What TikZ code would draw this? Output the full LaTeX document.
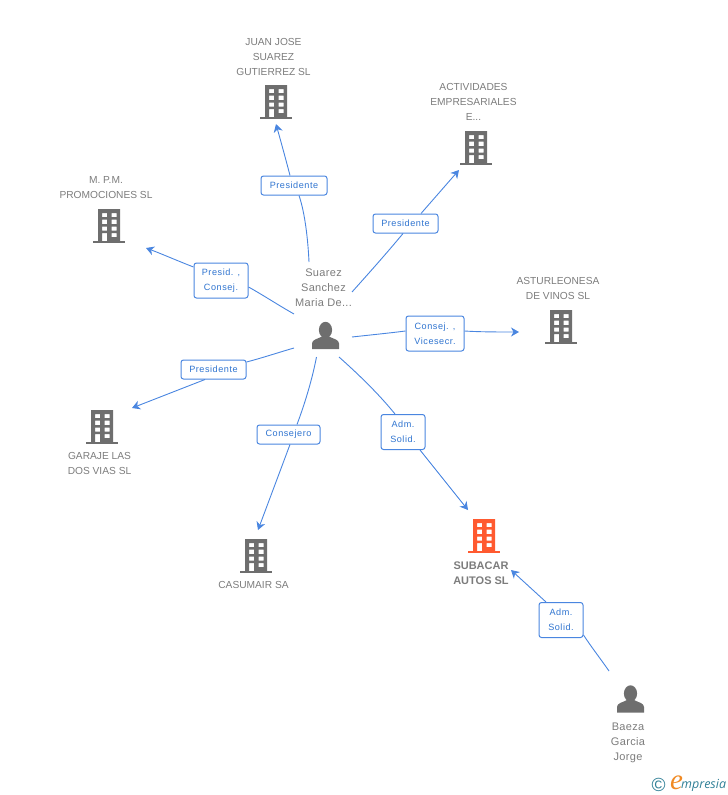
\documentclass[tikz,border=0pt]{standalone}
\usepackage{fontspec}
\usetikzlibrary{arrows.meta}
\setmainfont{Liberation Sans}
\newfontfamily\lblfont[LetterSpace=6]{Liberation Sans}
\newfontfamily\wsfont[LetterSpace=3]{Liberation Sans}
\newfontfamily\logofont{Liberation Serif}
\newfontfamily\logosans{Open Sans}
\definecolor{txt}{HTML}{7C7C7C}
\definecolor{icon}{HTML}{6E6E6E}
\definecolor{edge}{HTML}{4A86E0}
\definecolor{lbltxt}{HTML}{2F74D0}
\definecolor{hot}{HTML}{FF5A30}
\definecolor{teal}{HTML}{2F7F96}
\definecolor{orng}{HTML}{F08A24}
\tikzset{
  x=1pt,y=-1pt,
  every node/.style={font=\fontsize{10.2}{15}\selectfont},
  nametxt/.style={text=txt,align=center,inner sep=0pt},
  persontxt/.style={nametxt,font=\wsfont\fontsize{11}{15}\selectfont},
  rel/.style={draw=edge,line width=1pt,fill=white,rounded corners=2.5pt,text=lbltxt,align=center,
    font=\lblfont\fontsize{9.1}{15.2}\selectfont,inner sep=0pt,anchor=center},
  conn/.style={draw=edge,line width=0.9pt},
  arr/.style={conn,-{Stealth[length=8pt,width=9pt,inset=2.5pt]}},
  pics/building/.style={code={
    \fill[#1,even odd rule] (-11,-17) rectangle (11,15)
      (-7,-13) rectangle (-2,-9) (2.7,-13) rectangle (7.7,-9)
      (-7,-6.5) rectangle (-2,-2) (2.7,-6.5) rectangle (7.7,-2)
      (-7,0.5) rectangle (-2,4.5) (2.7,0.5) rectangle (7.7,4.5)
      (-7,7) rectangle (-2,15) (2.7,7) rectangle (7.7,11);
    \fill[#1] (-16,15) rectangle (16,17);
  }},
  pics/person/.style={code={
    \fill[icon] (0,-5.5) ellipse (6.6 and 8.2);
    \fill[icon] (-13.5,13.5) -- (-13.5,8) .. controls (-13.5,4) and (-8,3.5) .. (-3.5,1)
      -- (3.5,1) .. controls (8,3.5) and (13.5,4) .. (13.5,8) -- (13.5,13.5) -- cycle;
  }}
}
\begin{document}
\begin{tikzpicture}
\useasboundingbox (0,0) rectangle (728,795);

% icons
\pic at (276,102) {building=icon};
\pic at (476,148) {building=icon};
\pic at (109,226) {building=icon};
\pic at (561,327) {building=icon};
\pic at (102,427) {building=icon};
\pic at (256,556) {building=icon};
\pic at (484,536) {building=hot};
\pic at (325.5,335.5) {person};
\pic at (630.5,699) {person};

% names
\node[nametxt] (juan) at (273.5,56.5) {JUAN JOSE\\SUAREZ\\GUTIERREZ SL};
\node[nametxt] (acti) at (473.5,102) {ACTIVIDADES\\EMPRESARIALES\\E...};
\node[nametxt] (mpm) at (106,187.5) {M. P.M.\\PROMOCIONES SL};
\node[nametxt] (astur) at (558,288.5) {ASTURLEONESA\\DE VINOS SL};
\node[nametxt] (garaje) at (99.5,463.5) {GARAJE LAS\\DOS VIAS SL};
\node[nametxt] (casu) at (253.5,585) {CASUMAIR SA};
\node[nametxt,font=\bfseries\fontsize{11}{15}\selectfont] (suba) at (481,573.5) {SUBACAR\\AUTOS SL};
\node[persontxt] (suarez) at (323.5,288) {Suarez\\Sanchez\\Maria De...};
\node[persontxt] (baeza) at (628,742.5) {Baeza\\Garcia\\Jorge};

% connector ends
\coordinate (s1) at (309,262); \coordinate (t1) at (276,124);
\coordinate (s2) at (352,292); \coordinate (t2) at (459,170);
\coordinate (s3) at (294,314); \coordinate (t3) at (146,248);
\coordinate (s4) at (352,337); \coordinate (t4) at (519,332);
\coordinate (s5) at (294,348); \coordinate (t5) at (132,408);
\coordinate (s6) at (316.5,357); \coordinate (t6) at (258,530);
\coordinate (s7) at (339,357); \coordinate (t7) at (468,510);
\coordinate (s8) at (609,671); \coordinate (t8) at (511,570);

% labels
\node[rel,minimum width=66pt,minimum height=19pt] (l1) at (294,185.5) {Presidente};
\node[rel,minimum width=65pt,minimum height=19pt] (l2) at (405.5,223.5) {Presidente};
\node[rel,minimum width=54pt,minimum height=35pt] (l3) at (221,280.5) {Presid. ,\\Consej.};
\node[rel,minimum width=58pt,minimum height=35pt] (l4) at (435,333.5) {Consej. ,\\Vicesecr.};
\node[rel,minimum width=65pt,minimum height=19pt] (l5) at (213.5,369.5) {Presidente};
\node[rel,minimum width=63pt,minimum height=19pt] (l6) at (288.5,434.5) {Consejero};
\node[rel,minimum width=44pt,minimum height=35pt] (l7) at (403,432) {Adm.\\Solid.};
\node[rel,minimum width=44pt,minimum height=35pt] (l8) at (561,620) {Adm.\\Solid.};

% connectors
\draw[conn] (s1) .. controls (308,240) and (305,213) .. (l1.south -| 299,195);
\draw[arr] (l1.north -| 290,176) .. controls (286,160) and (281,142) .. (t1);
\draw[conn] (s2) .. controls (369,273) and (386,254) .. (l2.south -| 403,233);
\draw[arr] (l2.north -| 421,214) -- (t2);
\draw[conn] (s3) .. controls (278,305) and (263,295) .. (l3.east |- 0,287);
\draw[arr] (l3.west |- 0,267) .. controls (178,261) and (162,254) .. (t3);
\draw[conn] (s4) .. controls (370,335) and (390,333) .. (l4.west |- 0,331);
\draw[arr] (l4.east |- 0,331) .. controls (480,332) and (500,332) .. (t4);
\draw[conn] (s5) .. controls (280,352) and (262,358) .. (l5.east |- 0,362);
\draw[arr] (l5.south -| 205,379) -- (t5);
\draw[conn] (s6) .. controls (312,380) and (305,403) .. (l6.north -| 297,425);
\draw[arr] (l6.south -| 290,444) -- (t6);
\draw[conn] (s7) .. controls (357,373) and (378,393) .. (l7.north -| 395,415);
\draw[arr] (l7.south -| 420,449) -- (t7);
\draw[conn] (s8) .. controls (600,658) and (592,648) .. (l8.east |- 0,635);
\draw[arr] (l8.north -| 546,603) -- (t8);

% logo
\node[inner sep=0pt,text=teal,font=\fontsize{19}{19}\selectfont] (copy) at (658.5,784.5) {©};
\node[inner sep=0pt,anchor=base west,text=orng,font=\logofont\itshape\fontsize{29}{29}\selectfont] (ee) at (670,789) {e};
\node[inner sep=0pt,anchor=base west,text=teal,font=\logosans\itshape\fontsize{12.5}{14}\selectfont] (rest) at (681,788) {mpresia};
\end{tikzpicture}
\end{document}
